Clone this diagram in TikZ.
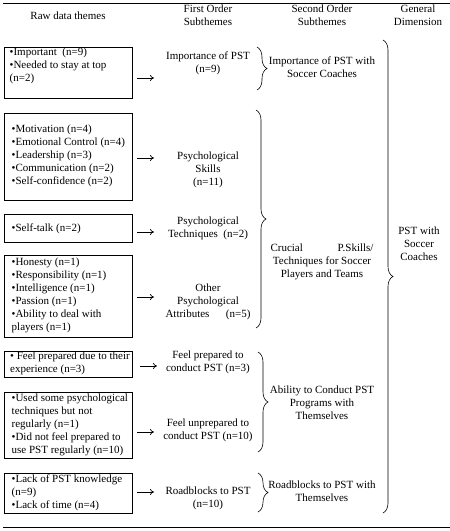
\documentclass[tikz,border=0pt]{standalone}
\usepackage{fontspec}
\setmainfont{Liberation Serif}
\usetikzlibrary{decorations.pathreplacing,arrows.meta}
\begin{document}
\begin{tikzpicture}[x=1pt,y=-1pt,
  txt/.style={font=\fontsize{11}{13}\selectfont, inner sep=0pt, align=center,
    execute at begin node=\strut, execute at end node=\strut},
  boxtxt/.style={txt, align=left, anchor=west},
  rawbox/.style={draw, line width=0.8pt, anchor=north west, minimum width=128pt, inner sep=0pt},
  arr/.style={-{To[length=4pt,width=6pt]}, line width=0.7pt},
  brc/.style={decorate, decoration={brace, amplitude=10pt}, line width=0.6pt},
  hrule/.style={line width=0.8pt}]
\useasboundingbox (0,0) rectangle (450,531);

% rules
\coordinate (tl1) at (3,3.5);
\coordinate (tl2) at (450,3.5);
\coordinate (bl1) at (3,527);
\coordinate (bl2) at (450,527);
\draw[hrule] (tl1) -- (tl2);
\draw[hrule] (bl1) -- (bl2);

% headers
\node[txt] (h1) at (68,17) {Raw data themes};
\node[txt] (h2) at (208,17) {First Order\\Subthemes};
\node[txt] (h3) at (322,17) {Second Order\\Subthemes};
\node[txt] (h4) at (418,17) {General\\Dimension};

% raw data boxes
\node[rawbox, minimum height=51pt] (b1) at (3.5,47) {};
\node[boxtxt] (t1) at ([xshift=6pt]b1.west) {•Important\ \ (n=9)\\•Needed to stay at top\\(n=2)\\};
\node[rawbox, minimum height=87pt] (b2) at (3.5,113) {};
\node[boxtxt] (t2) at ([xshift=8pt]b2.west) {•Motivation (n=4)\\•Emotional Control (n=4)\\•Leadership (n=3)\\•Communication (n=2)\\•Self-confidence (n=2)};
\node[rawbox, minimum height=28pt] (b3) at (3.5,214) {};
\node[boxtxt] (t3) at ([xshift=8pt]b3.west) {•Self-talk (n=2)};
\node[rawbox, minimum height=82pt] (b4) at (3.5,255) {};
\node[boxtxt] (t4) at ([xshift=8pt]b4.west) {•Honesty (n=1)\\•Responsibility (n=1)\\•Intelligence (n=1)\\•Passion (n=1)\\•Ability to deal with\\players (n=1)};
\node[rawbox, minimum height=26pt] (b5) at (3.5,351) {};
\node[boxtxt] (t5) at ([xshift=6.5pt]b5.west) {• Feel prepared due to their\\experience (n=3)};
\node[rawbox, minimum height=66pt] (b6) at (3.5,392) {};
\node[boxtxt] (t6) at ([xshift=8pt]b6.west) {•Used some psychological\\techniques but not\\regularly (n=1)\\•Did not feel prepared to\\use PST regularly (n=10)};
\node[rawbox, minimum height=40pt] (b7) at (3.5,473) {};
\node[boxtxt] (t7) at ([xshift=8pt]b7.west) {•Lack of PST knowledge\\(n=9)\\•Lack of time (n=4)};

% arrows
\coordinate (a1s) at (137,78);  \coordinate (a1e) at (154,78);
\coordinate (a2s) at (137,158); \coordinate (a2e) at (154,158);
\coordinate (a3s) at (137,232); \coordinate (a3e) at (154,232);
\coordinate (a4s) at (137,297); \coordinate (a4e) at (154,297);
\coordinate (a5s) at (140,366); \coordinate (a5e) at (157,366);
\coordinate (a6s) at (137,432); \coordinate (a6e) at (154,432);
\coordinate (a7s) at (137,492); \coordinate (a7e) at (154,492);
\draw[arr] (a1s) -- (a1e);
\draw[arr] (a2s) -- (a2e);
\draw[arr] (a3s) -- (a3e);
\draw[arr] (a4s) -- (a4e);
\draw[arr] (a5s) -- (a5e);
\draw[arr] (a6s) -- (a6e);
\draw[arr] (a7s) -- (a7e);

% first order subthemes
\node[txt] (f1) at (208,64.5) {Importance of PST\\(n=9)};
\node[txt] (f2) at (208,170.5) {Psychological\\Skills\\(n=11)};
\node[txt] (f3) at (208,229) {Psychological\\Techniques\ \ (n=2)};
\node[txt] (f4) at (208,302.5) {Other\\Psychological\\\hbox to 85pt{Attributes\hfill(n=5)}};
\node[txt] (f5) at (208,363.5) {Feel prepared to\\conduct PST (n=3)};
\node[txt] (f6) at (208,431.5) {Feel unprepared to\\conduct PST (n=10)};
\node[txt] (f7) at (208,499.5) {Roadblocks to PST\\(n=10)};

% braces to second order
\coordinate (k1t) at (257,47);  \coordinate (k1b) at (257,90);
\coordinate (k2t) at (256,110); \coordinate (k2b) at (256,328);
\coordinate (k3t) at (258,352); \coordinate (k3b) at (258,452);
\coordinate (k4t) at (258,473); \coordinate (k4b) at (258,512);
\draw[brc] (k1t) -- (k1b);
\draw[brc] (k2t) -- (k2b);
\draw[brc] (k3t) -- (k3b);
\draw[brc] (k4t) -- (k4b);

% second order subthemes
\node[txt] (s1) at (322,69) {Importance of PST with\\Soccer Coaches};
\node[txt] (s2) at (322,263) {\hbox to 103pt{Crucial\hfill P.Skills/}\\Techniques for Soccer\\Players and Teams};
\node[txt] (s3) at (322,405) {Ability to Conduct PST\\Programs with\\Themselves};
\node[txt] (s4) at (322,493.5) {Roadblocks to PST with\\Themselves};

% general dimension
\coordinate (k5t) at (383,40); \coordinate (k5b) at (383,513);
\draw[brc] (k5t) -- (k5b);
\node[txt] (g1) at (419,245.5) {PST with\\Soccer\\Coaches};
\end{tikzpicture}
\end{document}
